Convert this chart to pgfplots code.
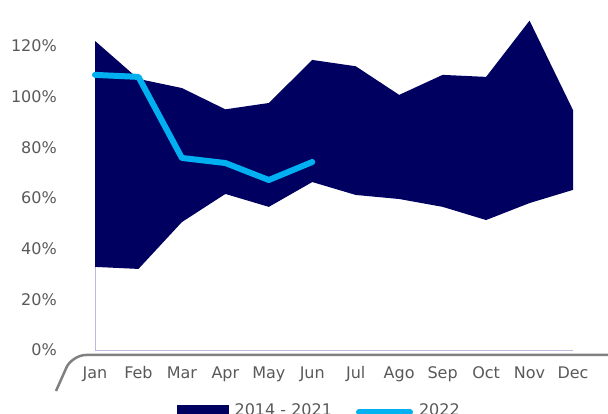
\documentclass[border=0pt]{standalone}
\usepackage{pgfplots}
\pgfplotsset{compat=1.18}
\usepackage{fontspec}
\setmainfont{DejaVu Sans}
\definecolor{navy}{RGB}{0,0,96}
\definecolor{lblue}{RGB}{0,176,240}
\definecolor{txt}{RGB}{89,89,89}
\definecolor{lav}{RGB}{190,185,220}
\definecolor{deco}{RGB}{128,128,128}
\begin{document}
\begin{tikzpicture}
\useasboundingbox (0pt,0pt) rectangle (608pt,414pt);
\begin{axis}[
  at={(95pt,64pt)}, anchor=south west,
  scale only axis, width=478pt, height=304pt,
  xmin=0, xmax=11, ymin=0, ymax=120, clip=false,
  xtick={0,...,11},
  xticklabels={Jan,Feb,Mar,Apr,May,Jun,Jul,Ago,Sep,Oct,Nov,Dec},
  ytick={0,20,...,120},
  yticklabel={\pgfmathprintnumber{\tick}\%},
  /pgf/number format/assume math mode=true,
  major tick length=0pt,
  axis x line*=bottom, axis y line*=left,
  axis line style={lav, line width=0.5pt, -},
  tick label style={font=\fontsize{16}{19}\selectfont, text=txt},
  yticklabel style={anchor=east, inner sep=0pt, xshift=-38pt},
  xticklabel style={anchor=north, inner sep=0pt, yshift=-16pt, text height=12pt, text depth=3pt},
  legend style={at={(0.469,-0.169)}, anchor=north, draw=none, fill=none,
    inner sep=0pt, legend columns=2, font=\fontsize{16}{19}\selectfont, text=txt,
    /tikz/every odd column/.append style={column sep=4pt},
    /tikz/every even column/.append style={column sep=22pt}},
  legend cell align=left,
]
\addplot[fill=navy, draw=none,
  legend image code/.code={\fill[navy] (0pt,-8pt) rectangle (52pt,5pt);}]
  coordinates {
  (0,122) (1,107) (2,103.4) (3,95) (4,97.5) (5,114.5) (6,112) (7,100.7) (8,108.6) (9,107.8) (10,130) (11,94.7)
  (11,63.2) (10,58) (9,51.3) (8,56.5) (7,59.6) (6,61.2) (5,66.3) (4,56.5) (3,61.6) (2,50.5) (1,32) (0,32.8)
  } -- cycle;
\addlegendentry{2014 - 2021}
\addplot[lblue, line width=6pt, line cap=round, line join=round,
  legend image code/.code={\draw[lblue, line width=6pt, line cap=round] (3pt,-2pt) -- (54pt,-2pt);}]
  coordinates {(0,108.6) (1,107.8) (2,75.8) (3,73.8) (4,67.1) (5,74.2)};
\addlegendentry{2022}
\end{axis}
\draw[deco, line width=2.5pt, rounded corners=14pt] (56pt,23pt) -- (72pt,59pt) -- (608pt,59pt);
\end{tikzpicture}
\end{document}
